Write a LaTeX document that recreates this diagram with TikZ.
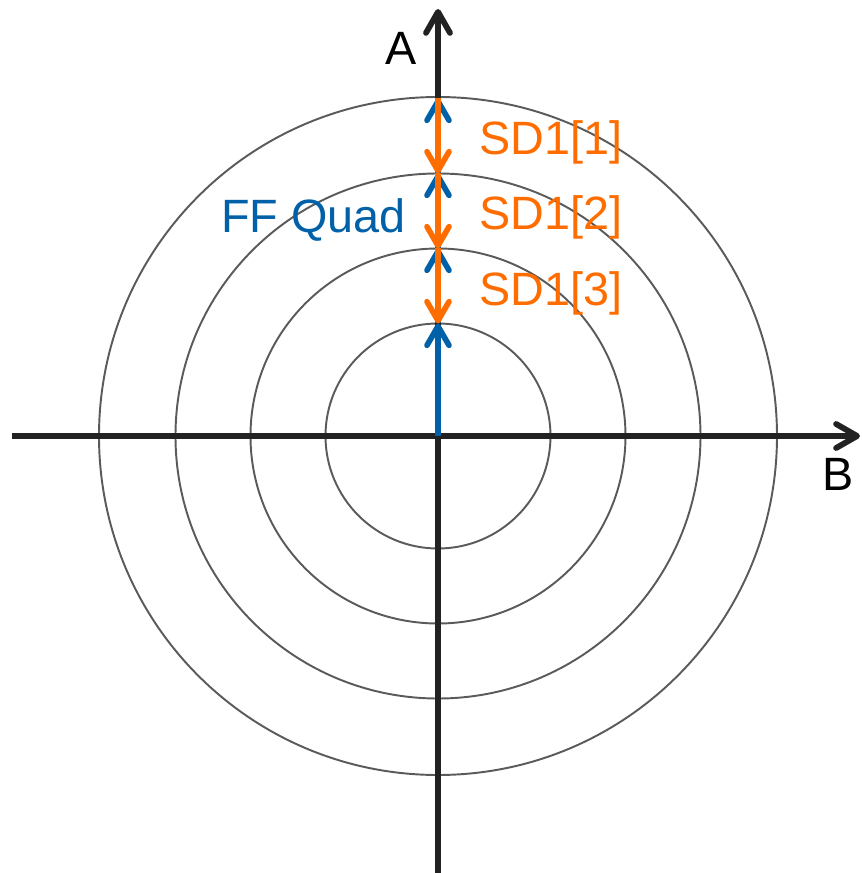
\documentclass[tikz,border=0pt]{standalone}
\usepackage{fontspec}
\setmainfont{Liberation Sans}
\usetikzlibrary{arrows.meta}
\definecolor{axisblack}{HTML}{222222}
\definecolor{ringgray}{HTML}{5A5A5A}
\definecolor{ffblue}{HTML}{0061A8}
\definecolor{sdorange}{HTML}{FF6D00}
\tikzset{
  axisarr/.style={-{Straight Barb[length=4.2mm, width=4.8mm, round]}, line width=3.3pt, color=axisblack},
  ring/.style={draw=ringgray, line width=1.1pt},
  ffarr/.style={-{Straight Barb[length=3.8mm, width=4.4mm, round]}, line width=3.2pt, color=ffblue},
  sdarr/.style={-{Straight Barb[length=3.8mm, width=4.4mm, round]}, line width=3.2pt, color=sdorange},
  lbl/.style={font=\fontsize{26.6}{32}\selectfont, inner sep=0pt, anchor=base west}}

\begin{document}
\begin{tikzpicture}
    \useasboundingbox (-8.76,-8.74) rectangle (8.48,8.72);
    % rings
    \foreach \r in {2.25,3.75,5.25,6.78}
      \draw[ring] (0,0) circle (\r);
    \coordinate (o) at (0,0);
    \coordinate (west) at (-8.52,0);
    \coordinate (east) at (8.44,0);
    \coordinate (south) at (0,-8.74);
    \coordinate (north) at (0,8.54);
    \coordinate (r1) at (0,2.25);
    \coordinate (r2) at (0,3.75);
    \coordinate (r3) at (0,5.25);
    \coordinate (r4) at (0,6.75);
    % axes
    \draw[axisarr] (west) -- (east);
    \draw[axisarr] (south) -- (north);
    % FF quad vector and steps
    \draw[ffarr] (o) -- (r1);
    \draw[ffarr] (r1) -- (r2);
    \draw[ffarr] (r2) -- (r3);
    \draw[ffarr] (r3) -- (r4);
    % SD1 steps
    \draw[sdarr] (r4) -- (r3);
    \draw[sdarr] (r3) -- (r2);
    \draw[sdarr] (r2) -- (r1);
    % labels
    \node[lbl] (alab) at (-1.06,7.42) {A};
    \node[lbl] (blab) at (7.68,-1.08) {B};
    \node[lbl, text=ffblue] (ffq) at (-4.34,4.06) {FF Quad};
    \node[lbl, text=sdorange] (sd1) at (0.82,5.62) {SD1[1]};
    \node[lbl, text=sdorange] (sd2) at (0.82,4.12) {SD1[2]};
    \node[lbl, text=sdorange] (sd3) at (0.82,2.62) {SD1[3]};
\end{tikzpicture}
\end{document}
